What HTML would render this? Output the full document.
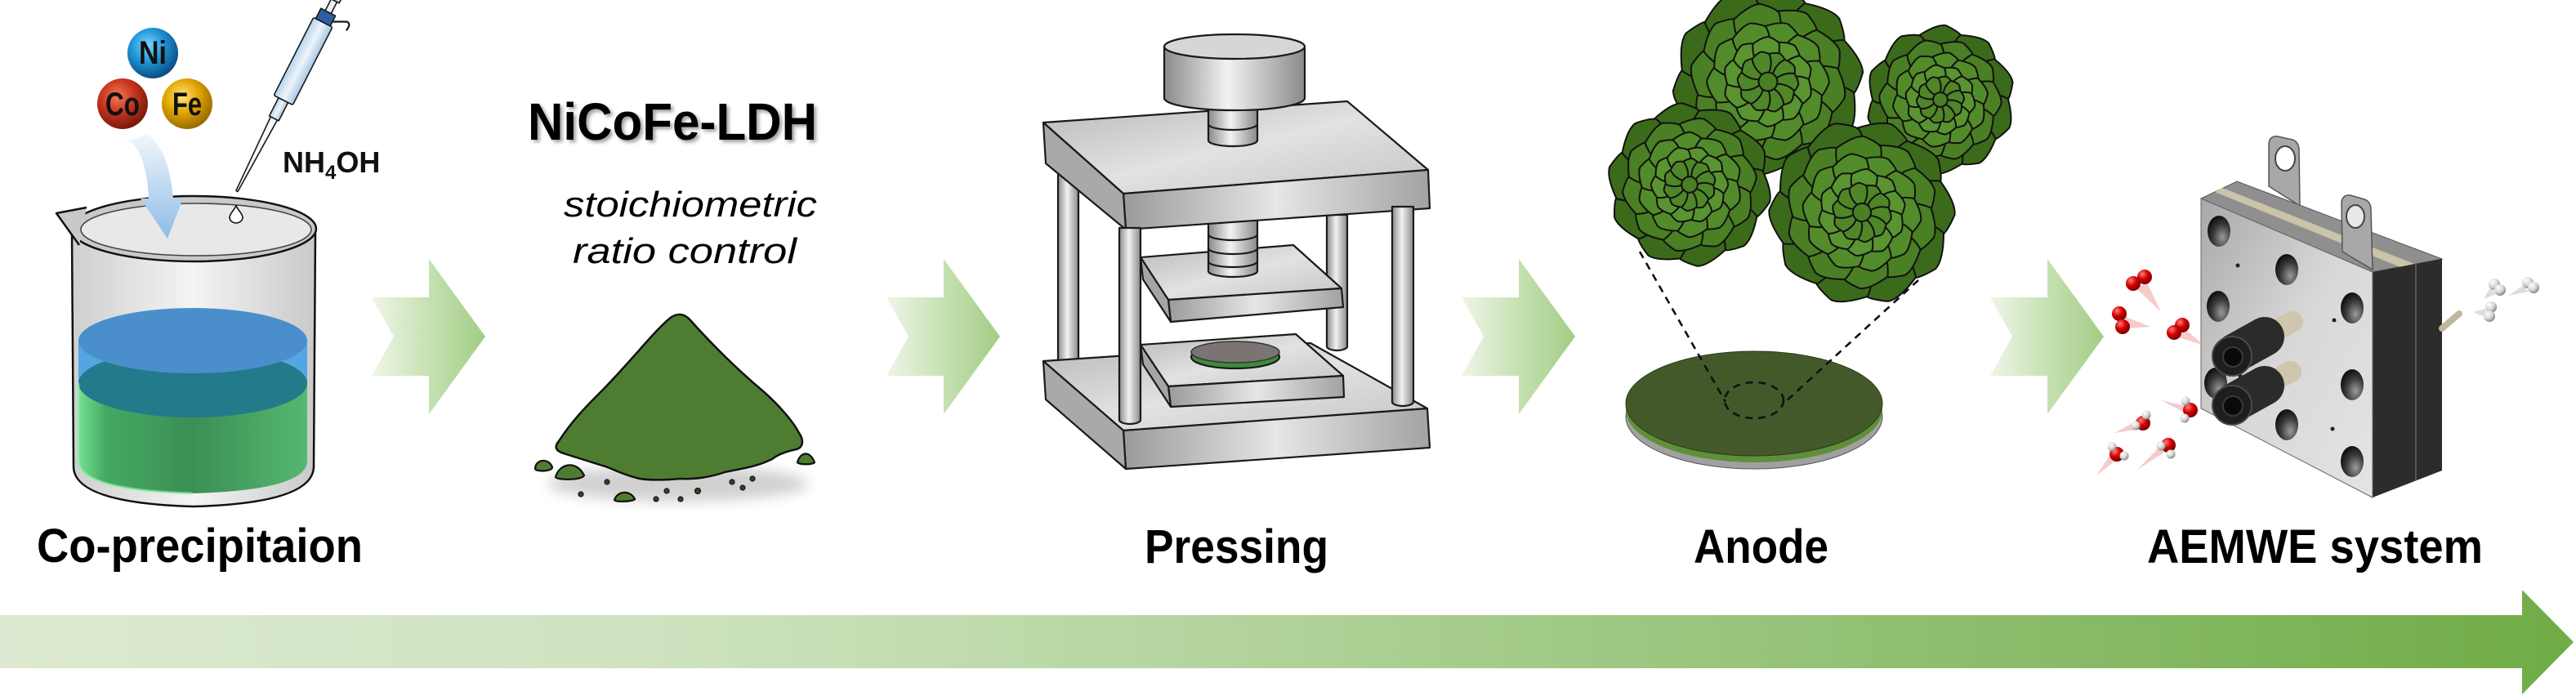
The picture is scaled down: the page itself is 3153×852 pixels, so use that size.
<!DOCTYPE html>
<html><head><meta charset="utf-8"><style>
html,body{margin:0;padding:0;background:#fff;}
svg{display:block;}
text{font-family:"Liberation Sans",Arial,sans-serif;}
</style></head><body>
<svg width="3153" height="852" viewBox="0 0 3153 852" xmlns="http://www.w3.org/2000/svg">
<defs>
  <linearGradient id="arr" x1="0" y1="0" x2="1" y2="0">
    <stop offset="0" stop-color="#eef6e8"/><stop offset="0.5" stop-color="#c6e1b2"/><stop offset="1" stop-color="#a2cd85"/>
  </linearGradient>
  <linearGradient id="big" gradientUnits="userSpaceOnUse" x1="0" y1="0" x2="3153" y2="0">
    <stop offset="0" stop-color="#dce9d0"/><stop offset="0.25" stop-color="#cfe3c0"/><stop offset="0.45" stop-color="#b6d6a1"/>
    <stop offset="0.65" stop-color="#9bc67f"/><stop offset="0.85" stop-color="#82b760"/><stop offset="1" stop-color="#6fac45"/>
  </linearGradient>
  <linearGradient id="metal" x1="0" y1="0" x2="1" y2="0">
    <stop offset="0" stop-color="#9a9a9a"/><stop offset="0.5" stop-color="#e6e6e6"/><stop offset="1" stop-color="#a2a2a2"/>
  </linearGradient>
  <linearGradient id="metalTop" x1="0" y1="0" x2="1" y2="1">
    <stop offset="0" stop-color="#b8b8b8"/><stop offset="0.5" stop-color="#e2e2e2"/><stop offset="1" stop-color="#c4c4c4"/>
  </linearGradient>
  <linearGradient id="cyl" x1="0" y1="0" x2="1" y2="0">
    <stop offset="0" stop-color="#8a8a8a"/><stop offset="0.45" stop-color="#f2f2f2"/><stop offset="1" stop-color="#8a8a8a"/>
  </linearGradient>
  <radialGradient id="gNi" cx="0.4" cy="0.35" r="0.65"><stop offset="0" stop-color="#7fd6ff"/><stop offset="0.5" stop-color="#1f95d6"/><stop offset="1" stop-color="#0a4f85"/></radialGradient>
  <radialGradient id="gCo" cx="0.4" cy="0.35" r="0.65"><stop offset="0" stop-color="#f27a58"/><stop offset="0.5" stop-color="#c8361e"/><stop offset="1" stop-color="#7a1a0c"/></radialGradient>
  <radialGradient id="gFe" cx="0.4" cy="0.35" r="0.65"><stop offset="0" stop-color="#ffe680"/><stop offset="0.5" stop-color="#e3a600"/><stop offset="1" stop-color="#9a6b00"/></radialGradient>
  <linearGradient id="blueArr" x1="0" y1="0" x2="0" y2="1">
    <stop offset="0" stop-color="#f2f7fc"/><stop offset="1" stop-color="#8dbbe6"/>
  </linearGradient>
  <linearGradient id="glass" x1="0" y1="0" x2="1" y2="0">
    <stop offset="0" stop-color="#cfcfcf"/><stop offset="0.5" stop-color="#f4f4f4"/><stop offset="1" stop-color="#c9c9c9"/>
  </linearGradient>
  <linearGradient id="greenL" x1="0" y1="0" x2="1" y2="0">
    <stop offset="0" stop-color="#74e391"/><stop offset="0.12" stop-color="#45a862"/><stop offset="0.5" stop-color="#3b8f55"/><stop offset="1" stop-color="#55b86f"/>
  </linearGradient>
  <linearGradient id="pip" x1="0" y1="0" x2="1" y2="0">
    <stop offset="0" stop-color="#b9d3ea"/><stop offset="0.5" stop-color="#eef5fb"/><stop offset="1" stop-color="#a8c6e2"/>
  </linearGradient>
  <linearGradient id="face" x1="0" y1="0" x2="1" y2="1">
    <stop offset="0" stop-color="#a8a8a8"/><stop offset="0.5" stop-color="#d8d8d8"/><stop offset="1" stop-color="#e4e4e4"/>
  </linearGradient>
  <radialGradient id="hole" cx="0.65" cy="0.7" r="0.7"><stop offset="0" stop-color="#9a9a9a"/><stop offset="0.6" stop-color="#3a3a3a"/><stop offset="1" stop-color="#111"/></radialGradient>
  <radialGradient id="redB" cx="0.35" cy="0.3" r="0.7"><stop offset="0" stop-color="#ff8080"/><stop offset="0.5" stop-color="#d80000"/><stop offset="1" stop-color="#7a0000"/></radialGradient>
  <radialGradient id="whiteB" cx="0.35" cy="0.3" r="0.7"><stop offset="0" stop-color="#ffffff"/><stop offset="0.6" stop-color="#d6d6d6"/><stop offset="1" stop-color="#8a8a8a"/></radialGradient>
  <filter id="blur8" x="-50%" y="-50%" width="200%" height="200%"><feGaussianBlur stdDeviation="8"/></filter>
  <filter id="blur2" x="-10%" y="-30%" width="120%" height="160%"><feGaussianBlur stdDeviation="2"/></filter>

  <path id="pt" d="M0,-0.2 C-0.22,-0.3 -0.34,-0.62 -0.3,-0.88 Q-0.05,-1.04 0.08,-1.02 Q0.28,-0.92 0.3,-0.86 C0.32,-0.6 0.2,-0.3 0,-0.2 Z" stroke="#111" stroke-width="2" vector-effect="non-scaling-stroke" stroke-linejoin="round"/>
  <g id="ring">
    <use href="#pt"/><use href="#pt" transform="rotate(36)"/><use href="#pt" transform="rotate(72)"/><use href="#pt" transform="rotate(108)"/><use href="#pt" transform="rotate(144)"/>
    <use href="#pt" transform="rotate(180)"/><use href="#pt" transform="rotate(216)"/><use href="#pt" transform="rotate(252)"/><use href="#pt" transform="rotate(288)"/><use href="#pt" transform="rotate(324)"/>
  </g>
  <g id="ros">
    <use href="#ring" fill="#3b6a1b"/>
    <use href="#ring" transform="rotate(18) scale(0.82)" fill="#4a7f24"/>
    <use href="#ring" transform="rotate(7) scale(0.64)" fill="#528b2a"/>
    <use href="#ring" transform="rotate(25) scale(0.47)" fill="#5a9430"/>
    <use href="#ring" transform="rotate(12) scale(0.32)" fill="#4f8628"/>
    <circle r="0.1" fill="#4a7f24" stroke="#111" stroke-width="2" vector-effect="non-scaling-stroke"/>
  </g>
</defs>

<rect width="3153" height="852" fill="#fff"/>

<!-- ============ Step arrows ============ -->
<polygon points="455,364 525,364 525,317 594,412 525,507 525,460 455,460 482,412" fill="url(#arr)"/>
<polygon points="1085,364 1155,364 1155,317 1224,412 1155,507 1155,460 1085,460 1112,412" fill="url(#arr)"/>
<polygon points="1789,364 1859,364 1859,317 1928,412 1859,507 1859,460 1789,460 1816,412" fill="url(#arr)"/>
<polygon points="2436,364 2506,364 2506,317 2575,412 2506,507 2506,460 2436,460 2463,412" fill="url(#arr)"/>

<!-- ============ Bottom big arrow ============ -->
<polygon points="0,753 3087,753 3087,722 3150,786 3087,850 3087,818 0,818" fill="url(#big)"/>

<!-- ============ Co-precipitation ============ -->
<circle cx="187" cy="65" r="31" fill="url(#gNi)"/>
<circle cx="150" cy="127" r="31" fill="url(#gCo)"/>
<circle cx="229" cy="127" r="31" fill="url(#gFe)"/>
<text x="187" y="78" font-size="40" font-weight="bold" text-anchor="middle" textLength="34" lengthAdjust="spacingAndGlyphs" fill="#111">Ni</text>
<text x="150" y="141" font-size="40" font-weight="bold" text-anchor="middle" textLength="42" lengthAdjust="spacingAndGlyphs" fill="#111">Co</text>
<text x="229" y="141" font-size="40" font-weight="bold" text-anchor="middle" textLength="36" lengthAdjust="spacingAndGlyphs" fill="#111">Fe</text>

<!-- pipette -->
<g transform="translate(290,234) rotate(27)" stroke="#1a1a1a" stroke-width="1.6" stroke-linejoin="round">
  <polygon points="-1.2,0 1.2,0 4.5,-100 -4.5,-100" fill="#f6f9fc"/>
  <rect x="-6.5" y="-125" width="13" height="25" fill="url(#pip)"/>
  <rect x="-13" y="-232" width="26" height="107" rx="2" fill="url(#pip)"/>
  <rect x="-10" y="-246" width="20" height="14" fill="#2d5fa0"/>
  <rect x="-4" y="-262" width="8" height="16" fill="#eeeeee"/>
  <rect x="-7" y="-268" width="14" height="6" fill="#d8d8d8"/>
  <path d="M10,-238 L26,-246 Q32,-246 30,-236" fill="none" stroke-width="2.2"/>
</g>
<text x="346" y="211" font-size="36" font-weight="bold" fill="#111">NH<tspan font-size="24" dy="8">4</tspan><tspan dy="-8">OH</tspan></text>

<!-- beaker glass -->
<path d="M88,283 L90,572 Q92,616 237,620 Q382,616 384,572 L386,284 Z" fill="url(#glass)" stroke="#111" stroke-width="2.5"/>
<path d="M96,469 L96,565 Q98,600 236,604 Q374,600 376,565 L376,469 Z" fill="url(#greenL)"/>
<rect x="96" y="417" width="280" height="52" fill="#52a6e2"/>
<ellipse cx="236" cy="469" rx="140" ry="42" fill="#237a8a"/>
<ellipse cx="236" cy="417" rx="140" ry="40" fill="#4a8fcb"/>
<path d="M96,469 L96,565 Q98,600 236,604" fill="none" stroke="#8ef0a8" stroke-width="3" opacity="0.6"/>
<ellipse cx="237" cy="280" rx="150" ry="40" fill="#c9c9c9" stroke="#111" stroke-width="2.5"/>
<path d="M106,254 L69,261 L97,300" fill="#c9c9c9" stroke="#111" stroke-width="2.5" stroke-linejoin="round"/>
<ellipse cx="240" cy="281" rx="141" ry="32" fill="#e8e8e8" stroke="#444" stroke-width="1.6"/>
<path d="M158,172 C172,182 180,205 182,243 L172,243 L205,292 L224,243 L212,243 C208,200 198,178 180,164 Z" fill="url(#blueArr)"/>
<path d="M289,252 C292,258 297,262 297,266 A8,7 0 0 1 281,266 C281,262 286,258 289,252 Z" fill="#fff" stroke="#111" stroke-width="1.6"/>

<text x="45" y="688" font-size="58" font-weight="bold" textLength="399" lengthAdjust="spacingAndGlyphs" fill="#000">Co-precipitaion</text>

<!-- ============ NiCoFe-LDH ============ -->
<text x="649" y="174" font-size="64" font-weight="bold" textLength="354" lengthAdjust="spacingAndGlyphs" fill="#777" opacity="0.7" filter="url(#blur2)">NiCoFe-LDH</text>
<text x="646" y="171" font-size="64" font-weight="bold" textLength="354" lengthAdjust="spacingAndGlyphs" fill="#000">NiCoFe-LDH</text>
<text x="690" y="265" font-size="44" font-style="italic" textLength="310" lengthAdjust="spacingAndGlyphs" fill="#000">stoichiometric</text>
<text x="701" y="322" font-size="44" font-style="italic" textLength="274" lengthAdjust="spacingAndGlyphs" fill="#000">ratio control</text>

<!-- pile -->
<ellipse cx="830" cy="592" rx="160" ry="22" fill="#000" opacity="0.18" filter="url(#blur8)"/>
<path d="M684,540 C700,515 720,495 735,480 C770,445 805,400 822,388 C830,383 838,384 845,392 C870,420 900,450 933,478 C955,497 972,518 978,530 C985,540 982,548 975,550 C960,553 950,558 945,562 C925,572 905,574 887,578 C870,584 850,587 833,586 C810,588 795,588 783,586 C765,582 752,575 741,571 C725,566 705,560 690,555 C680,552 678,547 684,540 Z" fill="#4e7d31" stroke="#111" stroke-width="2.5"/>
<g fill="#4e7d31" stroke="#111" stroke-width="2.2">
  <path d="M655,574 C655,562 672,560 676,572 C676,577 657,578 655,574 Z"/>
  <path d="M680,584 C684,568 705,562 715,582 C712,588 682,588 680,584 Z"/>
  <path d="M976,566 C980,552 992,552 997,566 C995,569 978,569 976,566 Z"/>
  <path d="M752,612 C756,600 772,600 777,611 C775,614 754,615 752,612 Z"/>
</g>
<g fill="#2d4a1d" stroke="#111" stroke-width="1.2">
  <circle cx="711" cy="605" r="3"/><circle cx="743" cy="590" r="3"/><circle cx="803" cy="611" r="3"/>
  <circle cx="816" cy="601" r="3"/><circle cx="833" cy="611" r="3"/><circle cx="854" cy="601" r="3.5"/>
  <circle cx="896" cy="590" r="3"/><circle cx="921" cy="586" r="3"/><circle cx="909" cy="597" r="3"/>
</g>

<!-- ============ Press ============ -->
<g stroke="#1a1a1a" stroke-width="2.2" stroke-linejoin="round">
  <path d="M1295,200 L1295,446 A12.5,5 0 0 0 1320,446 L1320,200 Z" fill="url(#cyl)"/>
  <path d="M1624,263 L1624,424 A12.5,5 0 0 0 1649,424 L1649,263 Z" fill="url(#cyl)"/>
  <polygon points="1277,442 1604,420 1747,500 1375,527" fill="url(#metalTop)"/>
  <polygon points="1375,527 1747,500 1750,548 1378,574" fill="url(#metal)"/>
  <polygon points="1277,442 1375,527 1378,574 1280,489" fill="#a9a9a9"/>
  <polygon points="1396,422 1586,409 1644,460 1430,473" fill="url(#metalTop)"/>
  <polygon points="1430,473 1644,460 1645,486 1433,498" fill="url(#metal)"/>
  <polygon points="1396,422 1430,473 1433,498 1399,446" fill="#a5a5a5"/>
  <ellipse cx="1512" cy="437" rx="54" ry="14" fill="#3d8b3d"/>
  <ellipse cx="1512" cy="431" rx="54" ry="13" fill="#7a7472" stroke="#333" stroke-width="1.5"/>
  <polygon points="1396,315 1583,300 1642,353 1430,367" fill="url(#metalTop)"/>
  <polygon points="1430,367 1642,353 1644,376 1433,394" fill="url(#metal)"/>
  <polygon points="1396,315 1430,367 1433,394 1399,342" fill="#a5a5a5"/>
  <path d="M1479,268 L1479,332 A30,7 0 0 0 1539,332 L1539,268 Z" fill="url(#cyl)"/>
  <path d="M1479,287 A30,7 0 0 0 1539,287 M1479,304 A30,7 0 0 0 1539,304 M1479,320 A30,7 0 0 0 1539,320" fill="none"/>
  <polygon points="1277,150 1649,124 1748,208 1375,237" fill="url(#metalTop)"/>
  <polygon points="1375,237 1748,208 1750,255 1378,281" fill="url(#metal)"/>
  <polygon points="1277,150 1375,237 1378,281 1280,200" fill="#a9a9a9"/>
  <path d="M1479,128 L1479,172 A30,7 0 0 0 1539,172 L1539,128 Z" fill="url(#cyl)"/>
  <path d="M1479,152 A30,7 0 0 0 1539,152" fill="none"/>
  <path d="M1425,57 L1425,120 A86,15 0 0 0 1597,120 L1597,57 Z" fill="url(#cyl)"/>
  <ellipse cx="1511" cy="57" rx="86" ry="15" fill="#d6d6d6"/>
  <path d="M1370,279 L1370,514 A13,5 0 0 0 1396,514 L1396,279 Z" fill="url(#cyl)"/>
  <path d="M1704,253 L1704,492 A13,5 0 0 0 1730,492 L1730,253 Z" fill="url(#cyl)"/>
</g>
<text x="1401" y="689" font-size="58" font-weight="bold" textLength="225" lengthAdjust="spacingAndGlyphs" fill="#000">Pressing</text>

<!-- ============ Anode ============ -->
<use href="#ros" transform="translate(2375,122) scale(89)"/>
<use href="#ros" transform="translate(2164,100) scale(114) rotate(8)"/>
<use href="#ros" transform="translate(2068,226) scale(98) rotate(-10)"/>
<use href="#ros" transform="translate(2279,260) scale(111) rotate(15)"/>

<ellipse cx="2147" cy="510" rx="157" ry="64" fill="#a0a0a0" stroke="#555" stroke-width="1"/>
<ellipse cx="2147" cy="502" rx="157" ry="64" fill="#5f8f3a"/>
<ellipse cx="2147" cy="494" rx="157" ry="64" fill="#44592a" stroke="#2a3a18" stroke-width="1"/>
<g fill="none" stroke="#111" stroke-width="2.6" stroke-dasharray="9 7">
  <line x1="2007" y1="308" x2="2112" y2="492"/>
  <line x1="2348" y1="343" x2="2183" y2="494"/>
  <ellipse cx="2147" cy="490" rx="36" ry="22"/>
</g>
<text x="2073" y="689" font-size="58" font-weight="bold" textLength="165" lengthAdjust="spacingAndGlyphs" fill="#000">Anode</text>

<!-- ============ AEMWE ============ -->
<path d="M2777,228 L2777,176 Q2778,166 2788,167 L2806,171 Q2814,174 2814,184 L2815,252 Z" fill="#a8a8a8" stroke="#555" stroke-width="1.5"/>
<ellipse cx="2797" cy="194" rx="12" ry="15" fill="#fff" stroke="#444" stroke-width="2"/>
<polygon points="2694,243 2738,222 2989,317 2904,333" fill="#8f8f8f" stroke="#555" stroke-width="1"/>
<polygon points="2711,235 2720,230 2955,323 2938,327" fill="#cbc3aa"/>
<polygon points="2904,333 2989,317 2989,576 2904,609" fill="#2c2c2c"/>
<line x1="2957" y1="323" x2="2957" y2="588" stroke="#555" stroke-width="2"/>
<polygon points="2694,243 2904,333 2904,609 2694,500" fill="url(#face)" stroke="#666" stroke-width="1"/>
<path d="M2867,308 L2866,248 Q2867,238 2877,239 L2894,244 Q2902,247 2902,257 L2904,330 Z" fill="#a8a8a8" stroke="#555" stroke-width="1.5"/>
<ellipse cx="2883" cy="265" rx="11" ry="14" fill="#e8e8e8" stroke="#444" stroke-width="2"/>
<g fill="url(#hole)">
  <ellipse cx="2716" cy="283" rx="14" ry="19"/>
  <ellipse cx="2799" cy="330" rx="14" ry="19"/>
  <ellipse cx="2715" cy="375" rx="14" ry="19"/>
  <ellipse cx="2879" cy="377" rx="14" ry="19"/>
  <ellipse cx="2879" cy="471" rx="14" ry="19"/>
  <ellipse cx="2799" cy="520" rx="14" ry="19"/>
  <ellipse cx="2879" cy="565" rx="14" ry="19"/>
  <ellipse cx="2712" cy="469" rx="14" ry="19"/>
</g>
<g fill="#222"><circle cx="2739" cy="325" r="2.5"/><circle cx="2857" cy="392" r="2.5"/><circle cx="2855" cy="525" r="2.5"/><circle cx="2742" cy="460" r="2.5"/></g>
<!-- connectors -->
<g stroke-linecap="round">
  <line x1="2772" y1="412" x2="2806" y2="394" stroke="#cfc6ad" stroke-width="26"/>
  <line x1="2736" y1="432" x2="2772" y2="412" stroke="#2b2b2b" stroke-width="48"/>
  <circle cx="2732" cy="436" r="24" fill="#1e1e1e" stroke="#4a4a4a" stroke-width="2"/>
  <circle cx="2733" cy="437" r="12" fill="#0a0a0a" stroke="#3a3a3a" stroke-width="2"/>
  <line x1="2772" y1="472" x2="2804" y2="455" stroke="#cfc6ad" stroke-width="26"/>
  <line x1="2736" y1="492" x2="2772" y2="472" stroke="#2b2b2b" stroke-width="48"/>
  <circle cx="2732" cy="496" r="24" fill="#1e1e1e" stroke="#4a4a4a" stroke-width="2"/>
  <circle cx="2733" cy="497" r="12" fill="#0a0a0a" stroke="#3a3a3a" stroke-width="2"/>
</g>
<line x1="2989" y1="402" x2="3010" y2="384" stroke="#bfb6a0" stroke-width="8" stroke-linecap="round"/>

<g fill="#f3a0a0" opacity="0.55">
  <polygon points="2614,352 2628,346 2645,382"/>
  <polygon points="2600,387 2602,402 2632,400"/>
  <polygon points="2664,412 2676,404 2698,423"/>
  <polygon points="2676,497 2680,508 2645,490"/>
  <polygon points="2618,514 2620,525 2588,530"/>
  <polygon points="2586,552 2592,562 2566,582"/>
  <polygon points="2650,540 2652,552 2616,575"/>
</g>
<g fill="#c8c8c8" opacity="0.6">
  <polygon points="3048,352 3055,360 3040,366"/>
  <polygon points="3088,350 3095,357 3070,362"/>
  <polygon points="3042,378 3042,388 3027,382"/>
</g>
<g fill="url(#redB)">
  <circle cx="2625" cy="339" r="9"/><circle cx="2611" cy="347" r="9"/>
  <circle cx="2594" cy="384" r="9"/><circle cx="2598" cy="400" r="9"/>
  <circle cx="2671" cy="398" r="9"/><circle cx="2661" cy="407" r="9"/>
</g>
<g>
  <circle cx="2681" cy="502" r="9" fill="url(#redB)"/><circle cx="2675" cy="491" r="5.5" fill="url(#whiteB)"/><circle cx="2674" cy="512" r="5.5" fill="url(#whiteB)"/>
  <circle cx="2623" cy="518" r="9" fill="url(#redB)"/><circle cx="2614" cy="521" r="5.5" fill="url(#whiteB)"/><circle cx="2627" cy="508" r="5.5" fill="url(#whiteB)"/>
  <circle cx="2591" cy="556" r="9" fill="url(#redB)"/><circle cx="2585" cy="547" r="5.5" fill="url(#whiteB)"/><circle cx="2600" cy="558" r="5.5" fill="url(#whiteB)"/>
  <circle cx="2654" cy="545" r="9" fill="url(#redB)"/><circle cx="2645" cy="546" r="5.5" fill="url(#whiteB)"/><circle cx="2657" cy="556" r="5.5" fill="url(#whiteB)"/>
</g>
<g fill="url(#whiteB)">
  <circle cx="3053" cy="348" r="7"/><circle cx="3060" cy="355" r="7"/>
  <circle cx="3094" cy="346" r="7"/><circle cx="3101" cy="352" r="7"/>
  <circle cx="3049" cy="376" r="7"/><circle cx="3047" cy="387" r="7"/>
</g>
<text x="2628" y="689" font-size="58" font-weight="bold" textLength="411" lengthAdjust="spacingAndGlyphs" fill="#000">AEMWE system</text>
</svg>
</body></html>
